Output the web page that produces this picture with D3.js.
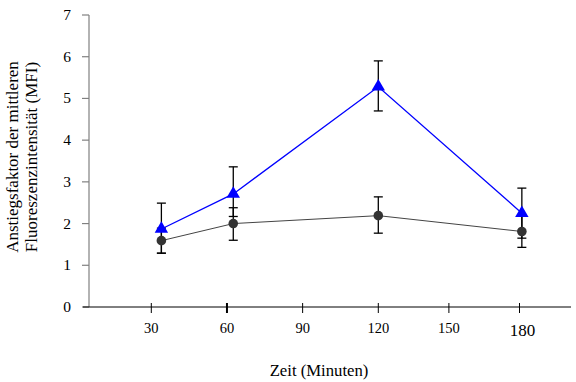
<!DOCTYPE html>
<html>
<head>
<meta charset="utf-8">
<script src="https://cdn.jsdelivr.net/npm/d3@7"></script>
<style>
  body { margin: 0; background: #fff; }
</style>
</head>
<body>
<div id="chart"></div>
<script>
// Zeitpunkte (Minuten) und Messwerte
const minutes = [34, 62.5, 120, 181];
const tickMinutes = [30, 60, 90, 120, 150, 180];
const yTicks = [0, 1, 2, 3, 4, 5, 6, 7];

// Serie mit Dreiecken (blau)
const triValues = [1.87, 2.71, 5.28, 2.25];
const triUpper = [0.62, 0.65, 0.62, 0.6];
const triLower = [0.58, 0.54, 0.58, 0.6];

// Serie mit Kreisen (dunkelgrau)
const dotValues = [1.59, 2.0, 2.19, 1.81];
const dotUpper = [0.3, 0.38, 0.45, 0.38];
const dotLower = [0.3, 0.4, 0.42, 0.38];

const width = 576, height = 382;
const svg = d3.select("#chart").append("svg")
  .attr("width", width)
  .attr("height", height)
  .attr("font-family", "'Liberation Serif', 'DejaVu Serif', serif")
  .style("font-family", "'Liberation Serif', 'DejaVu Serif', serif");

// x-Achse ist nicht ganz linear gezeichnet
const x = d3.scaleLinear()
  .domain([30, 120, 180])
  .range([151.3, 378.3, 519.5]);

const y = d3.scaleLinear()
  .domain([0, 7])
  .range([307, 15]);

const x0 = 89;

// y-Achse (grau)
svg.append("line")
  .attr("x1", x0).attr("x2", x0)
  .attr("y1", y(7)).attr("y2", y(0))
  .attr("stroke", "#808080").attr("stroke-width", 1.2);

svg.selectAll(".ytick")
  .data(yTicks)
  .enter().append("line")
  .attr("x1", x0 - 7).attr("x2", x0)
  .attr("y1", d => y(d)).attr("y2", d => y(d))
  .attr("stroke", "#808080").attr("stroke-width", 1.2);

svg.selectAll(".ylabel")
  .data(yTicks)
  .enter().append("text")
  .attr("x", 71)
  .attr("y", d => y(d) + 5)
  .attr("text-anchor", "end")
  .style("font-size", "15.5px")
  .text(d => d);

// x-Achse (schwarz)
svg.append("line")
  .attr("x1", 83).attr("x2", 571)
  .attr("y1", y(0)).attr("y2", y(0))
  .attr("stroke", "#000").attr("stroke-width", 1);

svg.selectAll(".xtick")
  .data(tickMinutes)
  .enter().append("line")
  .attr("x1", d => x(d)).attr("x2", d => x(d))
  .attr("y1", y(0) - 4).attr("y2", y(0) + 6)
  .attr("stroke", "#000")
  .attr("stroke-width", d => d === 60 ? 2 : 1);

svg.selectAll(".xlabel")
  .data(tickMinutes)
  .enter().append("text")
  .attr("x", d => x(d) + (d === 180 ? 3 : 0))
  .attr("y", d => d === 180 ? 336 : 333)
  .attr("text-anchor", "middle")
  .style("font-size", d => d === 180 ? "17px" : "14.5px")
  .text(d => d);

// Achsentitel
svg.append("text")
  .attr("x", 319).attr("y", 376)
  .attr("text-anchor", "middle")
  .style("font-size", "16.7px")
  .text("Zeit (Minuten)");

const yTitle = svg.append("text")
  .attr("transform", "translate(0,157) rotate(-90)")
  .attr("text-anchor", "middle")
  .style("font-size", "17px");
yTitle.append("tspan").attr("x", 0).attr("y", 17.5).text("Anstiegsfaktor der mittleren");
yTitle.append("tspan").attr("x", 0).attr("y", 36.5).text("Fluoreszenzintensität (MFI)");

// Linien
const line = vals => d3.line()
  .x((d, i) => x(minutes[i]))
  .y(d => y(d))(vals);

svg.append("path")
  .attr("d", line(dotValues))
  .attr("fill", "none").attr("stroke", "#444").attr("stroke-width", 1);

svg.append("path")
  .attr("d", line(triValues))
  .attr("fill", "none").attr("stroke", "#0000ff").attr("stroke-width", 1.3);

// Fehlerbalken
function errorBars(vals, up, lo) {
  const g = svg.append("g").attr("stroke", "#000").attr("stroke-width", 1.3);
  vals.forEach((v, i) => {
    const cx = x(minutes[i]);
    const top = y(v + up[i]), bot = y(v - lo[i]);
    g.append("line").attr("x1", cx).attr("x2", cx).attr("y1", top).attr("y2", bot);
    g.append("line").attr("x1", cx - 4.5).attr("x2", cx + 4.5).attr("y1", top).attr("y2", top);
    g.append("line").attr("x1", cx - 4.5).attr("x2", cx + 4.5).attr("y1", bot).attr("y2", bot);
  });
}
errorBars(dotValues, dotUpper, dotLower);
errorBars(triValues, triUpper, triLower);

// Marker
svg.selectAll(".dot")
  .data(dotValues)
  .enter().append("circle")
  .attr("cx", (d, i) => x(minutes[i]))
  .attr("cy", d => y(d))
  .attr("r", 4.8)
  .attr("fill", "#333");

svg.selectAll(".tri")
  .data(triValues)
  .enter().append("path")
  .attr("d", d3.symbol().type(d3.symbolTriangle).size(78))
  .attr("transform", (d, i) => "translate(" + x(minutes[i]) + "," + y(d) + ")")
  .attr("fill", "#0000ff");
</script>
</body>
</html>
